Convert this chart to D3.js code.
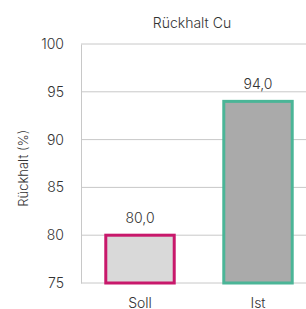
<!DOCTYPE html>
<html>
<head>
<meta charset="utf-8">
<script src="https://cdn.jsdelivr.net/npm/d3@7"></script>
<style>
  body { margin: 0; background: #fff; }
  svg { display: block; font-family: Inter, 'Open Sans', sans-serif; font-weight: 300; }
</style>
</head>
<body>
<div id="chart"></div>
<script>
const categories = ['Soll', 'Ist']
const values = [80.0, 94.0]
const fills = ['#d9d9d9', '#aaaaaa']
const strokes = ['#c8186b', '#4bb597']
const yTicks = [75, 80, 85, 90, 95, 100]

const width = 306
const height = 309
const margins = { left: 81, top: 44, right: -11, bottom: 26 }
const textColor = '#333'

const svg = d3.select('#chart').append('svg')
  .attr('width', width)
  .attr('height', height)

const plotWidth = width - margins.left - margins.right
const plotHeight = height - margins.top - margins.bottom

const plot = svg.append('g')
  .attr('transform', `translate(${margins.left}, ${margins.top})`)

// scales
const x = d3.scaleBand()
  .domain(categories)
  .range([0, plotWidth])
  .paddingInner(0.42)
  .paddingOuter(0.21)
const y = d3.scaleLinear().domain([75, 100]).range([plotHeight, 0])

// grid
plot.append('g')
  .selectAll('line')
  .data(yTicks)
  .join('line')
  .attr('x1', 0)
  .attr('x2', plotWidth)
  .attr('y1', d => y(d))
  .attr('y2', d => y(d))
  .attr('stroke', '#c8c8c8')
  .attr('stroke-width', 1)

// y-axis
const yAxis = plot.append('g')
  .call(d3.axisLeft(y).tickValues(yTicks).tickSize(0).tickPadding(17))
yAxis.select('.domain').attr('stroke', '#c8c8c8')
yAxis.selectAll('text')
  .attr('font-size', '14px')
  .attr('fill', textColor)
  .attr('font-family', null)

// x labels
const xAxis = plot.append('g')
  .attr('transform', `translate(0, ${plotHeight})`)
  .call(d3.axisBottom(x).tickSize(0).tickPadding(15))
xAxis.select('.domain').remove()
xAxis.selectAll('text')
  .attr('font-size', '14px')
  .attr('fill', textColor)
  .attr('font-family', null)
xAxis.attr('font-family', null)
yAxis.attr('font-family', null)

const data = categories.map((c, i) => ({ name: c, value: values[i], fill: fills[i], stroke: strokes[i] }))

// bars
plot.selectAll('rect.bar')
  .data(data)
  .join('rect')
  .attr('class', 'bar')
  .attr('x', d => x(d.name))
  .attr('y', d => y(d.value))
  .attr('width', x.bandwidth())
  .attr('height', d => plotHeight - y(d.value))
  .attr('fill', d => d.fill)
  .attr('stroke', d => d.stroke)
  .attr('stroke-width', 3)

// value labels
plot.selectAll('text.count')
  .data(data)
  .join('text')
  .attr('class', 'count')
  .attr('x', d => x(d.name) + x.bandwidth() / 2)
  .attr('y', d => y(d.value) - 12)
  .attr('text-anchor', 'middle')
  .attr('font-size', '14px')
  .attr('fill', textColor)
  .text(d => d.value.toFixed(1).replace('.', ','))

// title
svg.append('text')
  .attr('x', 192)
  .attr('y', 28)
  .attr('text-anchor', 'middle')
  .attr('font-size', '14px')
  .attr('fill', textColor)
  .text('Rückhalt Cu')

// y label
svg.append('text')
  .attr('transform', `translate(28, ${margins.top + plotHeight * 0.52}) rotate(-90)`)
  .attr('text-anchor', 'middle')
  .attr('font-size', '13px')
  .attr('fill', textColor)
  .text('Rückhalt (%)')
</script>
</body>
</html>
